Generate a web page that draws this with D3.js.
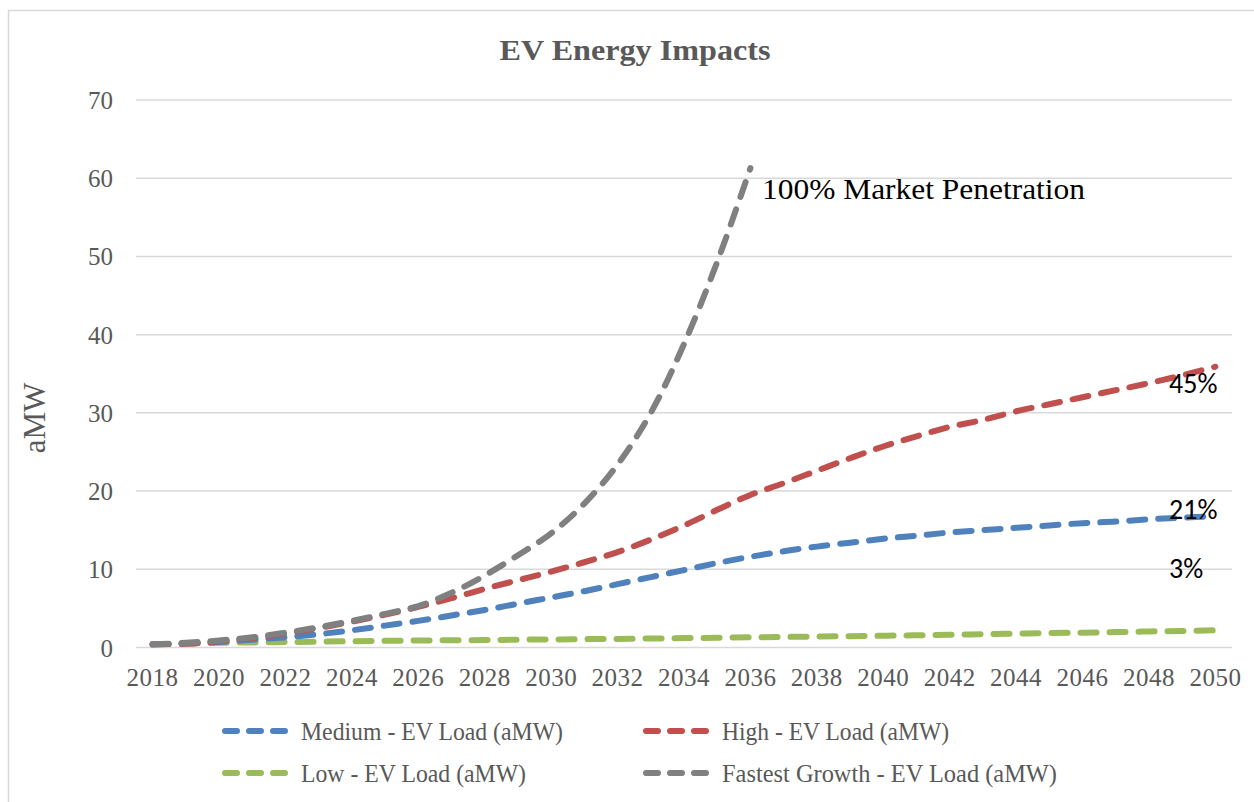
<!DOCTYPE html>
<html>
<head>
<meta charset="utf-8">
<script src="https://cdn.jsdelivr.net/npm/d3@7"></script>
<style>
  body { margin: 0; background: #fff; }
  svg { display: block; }
</style>
</head>
<body>
<svg id="chart" width="1254" height="802"></svg>
<script>
(function() {

  // years on the category axis
  var years = d3.range(2018, 2051);
  var tickYears = years.filter(y => (y - 2018) % 2 == 0);
  var yTicks = [0, 10, 20, 30, 40, 50, 60, 70];

  // aMW
  var medium = [0.4, 0.5, 0.7, 1.0, 1.3, 1.7, 2.2, 2.8, 3.4, 4.1, 4.8, 5.6, 6.4, 7.2, 8.1, 9.0, 9.9,
                10.8, 11.6, 12.3, 12.9, 13.4, 13.9, 14.3, 14.7, 15.0, 15.3, 15.6, 15.9, 16.1, 16.4, 16.6, 16.8];
  var high = [0.4, 0.5, 0.8, 1.2, 1.8, 2.5, 3.3, 4.2, 5.2, 6.3, 7.5, 8.6, 9.7, 10.9, 12.2, 13.8, 15.6,
              17.6, 19.5, 21.0, 22.6, 24.2, 25.7, 27.0, 28.2, 29.1, 30.2, 31.1, 32.0, 32.9, 33.8, 34.8, 35.9];
  var low = [0.4, 0.5, 0.6, 0.65, 0.7, 0.75, 0.8, 0.85, 0.9, 0.92, 0.95, 1.0, 1.03, 1.07, 1.1, 1.15, 1.2,
             1.25, 1.3, 1.35, 1.4, 1.45, 1.5, 1.57, 1.63, 1.7, 1.77, 1.84, 1.9, 1.97, 2.05, 2.12, 2.2];
  var fastest = [0.4, 0.6, 0.9, 1.3, 1.9, 2.6, 3.4, 4.3, 5.3, 7.0, 9.2, 11.8, 14.6, 18.4, 23.4, 30.0,
                 38.8, 49.3, 61.3];

  var seriesNames = ["Medium - EV Load (aMW)", "High - EV Load (aMW)", "Low - EV Load (aMW)", "Fastest Growth - EV Load (aMW)"];
  var seriesValues = [medium, high, low, fastest];
  var seriesColors = ["#4f81bd", "#c0504d", "#9bbb59", "#808080"];

  var endLabels = ["45%", "21%", "3%"];

  var svg = d3.select("#chart");

  var left = 136,
      right = 1232,
      top = 100,
      bottom = 647.5;

  var x = d3.scaleBand()
      .domain(years)
      .range([left, right]);

  var y = d3.scaleLinear()
      .domain([0, 70])
      .range([bottom, top]);

  // chart area border
  svg.append("rect")
      .attr("x", 8.5)
      .attr("y", 10.5)
      .attr("width", 1300)
      .attr("height", 900)
      .attr("fill", "#fff")
      .attr("stroke", "#d9d9d9")
      .attr("stroke-width", 1.5);

  svg.append("text")
      .attr("x", 635)
      .attr("y", 60)
      .attr("text-anchor", "middle")
      .attr("textLength", 271)
      .attr("lengthAdjust", "spacingAndGlyphs")
      .style("font", "bold 30px 'Liberation Serif', serif")
      .style("fill", "#595959")
      .text("EV Energy Impacts");

  // gridlines
  svg.append("g")
    .selectAll("line").data(yTicks).enter().append("line")
      .attr("x1", left)
      .attr("x2", right)
      .attr("y1", d => y(d))
      .attr("y2", d => y(d))
      .attr("stroke", "#d9d9d9")
      .attr("stroke-width", 1.5);

  var yAxis = svg.append("g")
      .attr("transform", "translate(" + (left - 23) + ",0)")
      .call(d3.axisLeft(y).tickValues(yTicks).tickSize(0).tickPadding(0));

  yAxis.select(".domain").remove();
  yAxis.selectAll("text")
      .attr("dy", "0.34em")
      .style("font", "25px 'Liberation Serif', serif")
      .style("fill", "#595959");

  var xAxis = svg.append("g")
      .attr("transform", "translate(0," + bottom + ")")
      .call(d3.axisBottom(x).tickValues(tickYears).tickSize(0).tickPadding(0));

  xAxis.select(".domain").remove();
  xAxis.selectAll("text")
      .attr("y", 38)
      .attr("dy", 0)
      .style("font", "25px 'Liberation Serif', serif")
      .style("letter-spacing", "0.5px")
      .style("fill", "#595959");

  svg.append("text")
      .attr("transform", "translate(45,418) rotate(-90)")
      .attr("text-anchor", "middle")
      .style("font", "31px 'Liberation Serif', serif")
      .style("fill", "#595959")
      .text("aMW");

  var line = d3.line()
      .x((d, i) => x(years[i]) + x.bandwidth() / 2)
      .y(d => y(d))
      .curve(d3.curveCatmullRom.alpha(0.5));

  // draw low first so the others sit on top, as in the original
  var order = [2, 0, 1, 3];
  order.forEach(i => {
    svg.append("path")
        .attr("d", line(seriesValues[i]))
        .attr("fill", "none")
        .attr("stroke", seriesColors[i])
        .attr("stroke-width", 6)
        .attr("stroke-linecap", "round")
        .attr("stroke-dasharray", "16,13");
  });

  svg.append("text")
      .attr("x", 762)
      .attr("y", 199)
      .attr("textLength", 323)
      .attr("lengthAdjust", "spacingAndGlyphs")
      .style("font", "29px 'Liberation Serif', serif")
      .style("fill", "#000")
      .text("100% Market Penetration");

  var labelY = [393, 519, 578];
  svg.append("g")
    .selectAll("text").data(endLabels).enter().append("text")
      .attr("x", 1169)
      .attr("y", (d, i) => labelY[i])
      .style("font", "28px Carlito, Lato, sans-serif")
      .style("fill", "#000")
      .text(d => d);

  // legend
  var legendPos = [[222, 731], [643, 731], [222, 773], [643, 773]];
  var legendWidths = [262, 227, 225, 335];

  var legend = svg.append("g")
    .selectAll("g").data(seriesNames).enter().append("g")
      .attr("transform", (d, i) => "translate(" + legendPos[i][0] + "," + legendPos[i][1] + ")");

  legend.append("line")
      .attr("x1", 3)
      .attr("x2", 63)
      .attr("stroke", (d, i) => seriesColors[i])
      .attr("stroke-width", 6)
      .attr("stroke-linecap", "round")
      .attr("stroke-dasharray", "12,12");

  legend.append("text")
      .attr("x", 79)
      .attr("y", 9)
      .attr("textLength", (d, i) => legendWidths[i])
      .attr("lengthAdjust", "spacingAndGlyphs")
      .style("font", "26px 'Liberation Serif', serif")
      .style("fill", "#595959")
      .text(d => d);

})();
</script>
</body>
</html>
